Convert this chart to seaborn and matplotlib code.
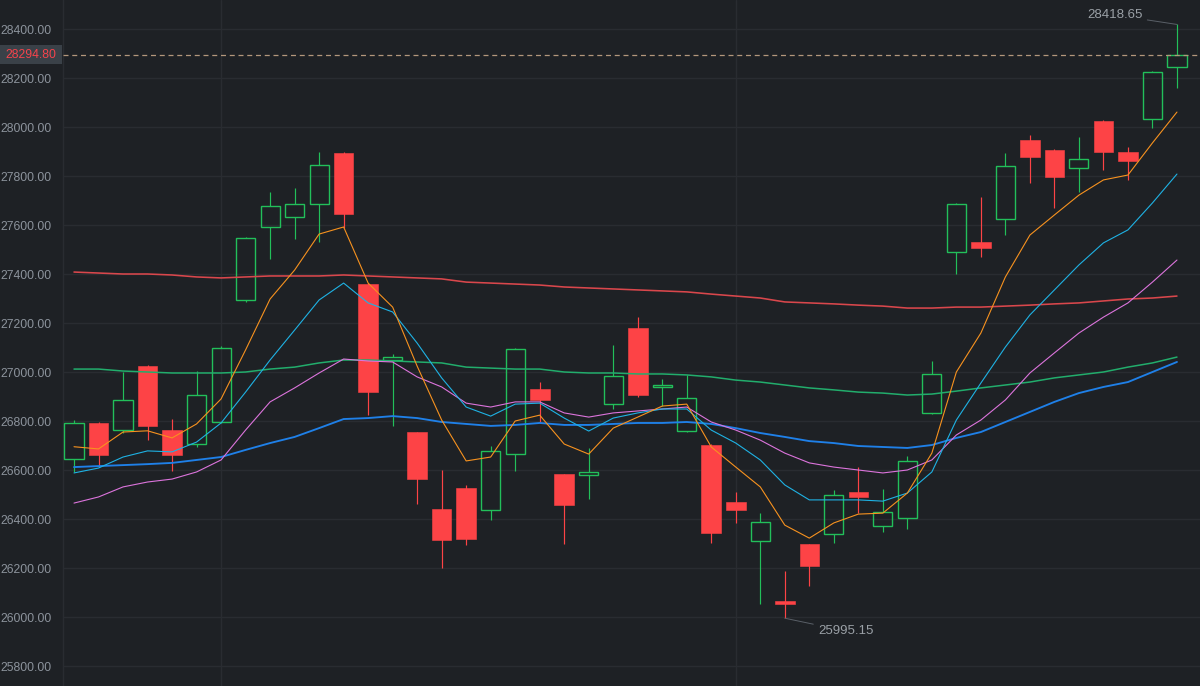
import matplotlib
matplotlib.use('Agg')

import numpy as np
import pandas as pd
import matplotlib.pyplot as plt
import matplotlib.transforms as mtransforms
from matplotlib.patches import Rectangle
import seaborn as sns

# ==========================================
# DU LIEU NEN (OHLC) DOC TU HINH
# ==========================================
opens = [26645, 26792, 26763, 27024, 26763, 26706, 26796, 27294, 27592, 27633,
         27686, 27894, 27359, 27049, 26755, 26441, 26526, 26437, 26665, 26930,
         26583, 26579, 26869, 27180, 26939, 26759, 26702, 26469, 26310, 26065,
         26298, 26339, 26510, 26371, 26404, 26833, 27490, 27531, 27624, 27947,
         27906, 27833, 28024, 27898, 28033, 28245]
highs = [26804, 26795, 27000, 27028, 26808, 27004, 27106, 27550, 27735, 27751,
         27898, 27898, 27362, 27073, 26757, 26600, 26539, 26698, 27098, 26959,
         26585, 26690, 27110, 27224, 26971, 26988, 26705, 26510, 26424, 26188,
         26300, 26518, 26612, 26522, 26657, 27045, 27690, 27714, 27894, 27967,
         27910, 27959, 28028, 27918, 28228, 28418.65]
lows = [26590, 26612, 26751, 26722, 26596, 26694, 26790, 27286, 27461, 27543,
        27531, 27588, 26824, 26779, 26461, 26200, 26294, 26396, 26596, 26796,
        26298, 26481, 26849, 26900, 26861, 26755, 26302, 26384, 26053, 25995.15,
        26127, 26302, 26424, 26347, 26359, 26830, 27400, 27469, 27559, 27771,
        27669, 27735, 27824, 27784, 27996, 28159]
closes = [26792, 26662, 26886, 26779, 26661, 26906, 27098, 27547, 27677, 27686,
          27845, 27645, 26918, 27061, 26563, 26314, 26318, 26677, 27094, 26886,
          26457, 26592, 26984, 26906, 26947, 26894, 26343, 26437, 26388, 26053,
          26208, 26498, 26490, 26428, 26637, 26992, 27686, 27506, 27841, 27878,
          27796, 27869, 27898, 27861, 28224, 28294.80]

# Cac duong trung binh dong (doc tu hinh)
ma5 = [26695, 26686, 26755, 26760, 26731, 26788, 26890, 27090, 27298, 27416,
       27563, 27592, 27363, 27265, 27024, 26804, 26637, 26653, 26800, 26824,
       26706, 26665, 26771, 26816, 26861, 26869, 26694, 26612, 26531, 26375,
       26322, 26384, 26420, 26424, 26506, 26669, 27000, 27159, 27388, 27559,
       27641, 27722, 27784, 27804, 27935, 28061]
ma10 = [26588, 26608, 26653, 26678, 26674, 26714, 26792, 26918, 27049, 27171,
        27294, 27363, 27282, 27245, 27118, 26976, 26857, 26820, 26869, 26873,
        26812, 26759, 26812, 26833, 26849, 26849, 26763, 26710, 26641, 26539,
        26478, 26478, 26478, 26473, 26506, 26592, 26804, 26955, 27102, 27233,
        27335, 27437, 27527, 27580, 27690, 27808]
ma20 = [26465, 26490, 26531, 26551, 26563, 26592, 26641, 26763, 26878, 26935,
        26996, 27053, 27045, 27041, 26980, 26939, 26873, 26857, 26878, 26878,
        26833, 26816, 26833, 26841, 26849, 26857, 26796, 26763, 26722, 26669,
        26629, 26612, 26600, 26588, 26600, 26641, 26743, 26804, 26886, 26996,
        27078, 27159, 27224, 27282, 27367, 27457]
ma30 = [26612, 26616, 26620, 26624, 26629, 26641, 26653, 26682, 26710, 26735,
        26771, 26808, 26812, 26820, 26812, 26796, 26788, 26780, 26784, 26792,
        26784, 26784, 26788, 26792, 26792, 26796, 26788, 26771, 26751, 26735,
        26718, 26710, 26698, 26694, 26690, 26702, 26731, 26755, 26796, 26837,
        26878, 26914, 26939, 26959, 27000, 27041]
ma60 = [27012, 27012, 27004, 27000, 26996, 26996, 26996, 27000, 27012, 27020,
        27037, 27049, 27049, 27045, 27041, 27037, 27020, 27016, 27012, 27012,
        27000, 26996, 26996, 26992, 26992, 26988, 26980, 26967, 26959, 26947,
        26935, 26927, 26918, 26914, 26906, 26910, 26922, 26935, 26947, 26959,
        26976, 26988, 27000, 27020, 27037, 27061]
ma120 = [27408, 27404, 27400, 27400, 27396, 27388, 27384, 27388, 27392, 27392,
         27392, 27396, 27392, 27388, 27384, 27380, 27367, 27363, 27359, 27355,
         27347, 27343, 27339, 27335, 27331, 27327, 27318, 27310, 27302, 27286,
         27282, 27278, 27273, 27269, 27261, 27261, 27265, 27265, 27269, 27273,
         27278, 27282, 27290, 27298, 27302, 27310]

last_price = 28294.80
y_ticks = list(range(25800, 28401, 200))
month_marks = [6, 27]

# ==========================================
# MAU SAC & GIAO DIEN
# ==========================================
bg = '#1e2125'
grid_c = '#292c31'
up_c = '#22bf5a'
down_c = '#fd4346'
text_c = '#8c939c'

sns.set_theme(style='dark', rc={'axes.facecolor': bg, 'figure.facecolor': bg})
plt.rcParams['font.family'] = ['Liberation Sans', 'DejaVu Sans']

fig = plt.figure(figsize=(12, 6.86), dpi=100, facecolor=bg)
ax = fig.add_axes([63 / 1200, 0, 1 - 63 / 1200, 1])
ax.set_facecolor(bg)

o = np.array(opens)
h = np.array(highs)
l = np.array(lows)
c = np.array(closes)
x = np.arange(len(c))
up = c >= o

# Bac (wick): nen tang chia hai doan de khong xuyen qua than rong
for i in range(len(c)):
    if up[i]:
        ax.vlines(i, c[i], h[i], color=up_c, lw=0.85, zorder=2)
        ax.vlines(i, l[i], o[i], color=up_c, lw=0.85, zorder=2)
    else:
        ax.vlines(i, l[i], h[i], color=down_c, lw=0.85, zorder=2)

ax.bar(x[~up], (o - c)[~up], bottom=c[~up], width=0.8,
       color=down_c, edgecolor=down_c, linewidth=0.4, zorder=3)
ax.bar(x[up], np.maximum((c - o)[up], 4), bottom=o[up], width=0.78,
       facecolor='none', edgecolor=up_c, linewidth=1.0, zorder=3)

# Duong MA ve bang seaborn
ma_df = pd.DataFrame({'idx': x, 'MA5': ma5, 'MA10': ma10, 'MA20': ma20,
                      'MA30': ma30, 'MA60': ma60, 'MA120': ma120})
ma_styles = [('MA120', '#d9474c', 1.15), ('MA60', '#22ad6c', 1.1),
             ('MA30', '#1f80e8', 1.35), ('MA20', '#dc74dc', 0.8),
             ('MA10', '#1eb2e4', 0.8), ('MA5', '#f7921f', 0.8)]
for name, col, lw in ma_styles:
    sns.lineplot(data=ma_df, x='idx', y=name, ax=ax, color=col, linewidth=lw,
                 zorder=4, legend=False)

# Gia hien tai
ax.axhline(last_price, color='#b3977c', lw=0.9, ls=(0, (4, 3)), zorder=5)

# Truc va luoi
ax.set_xlim(-0.449, 45.94)
ax.set_ylim(25718.4, 28518.4)
ax.set_yticks(y_ticks)
ax.set_yticklabels([f'{v:.2f}' for v in y_ticks])
ax.set_xticks([])
ax.set_xlabel('')
ax.set_ylabel('')
ax.tick_params(axis='y', length=0, pad=8, labelsize=8.7, labelcolor=text_c)
ax.grid(axis='y', color=grid_c, lw=1.0)
for m in month_marks:
    ax.axvline(m, color=grid_c, lw=1.0, zorder=0)
for s in ['top', 'right', 'bottom']:
    ax.spines[s].set_visible(False)
ax.spines['left'].set_color(grid_c)
ax.spines['left'].set_linewidth(1.0)

# Nhan gia hien tai ben trai
tr = mtransforms.blended_transform_factory(fig.transFigure, ax.transData)
ax.add_patch(Rectangle((0, last_price - 38), 62 / 1200, 77, transform=tr,
                       facecolor='#3a4148', edgecolor='none', clip_on=False, zorder=6))
ax.text(5 / 1200, last_price, f'{last_price:.2f}', transform=tr, color='#f5444c',
        fontsize=8.7, va='center', ha='left', zorder=7, clip_on=False)

# Chu thich dinh / day
imax = int(np.argmax(h))
imin = int(np.argmin(l))
ax.annotate(f'{h[imax]:.2f}', xy=(imax, h[imax]), xytext=(43.6, 28457),
            ha='right', va='center', color='#9aa0a6', fontsize=9.5,
            arrowprops=dict(arrowstyle='-', color='#5a6068', lw=0.7,
                            shrinkA=1, shrinkB=0))
ax.annotate(f'{l[imin]:.2f}', xy=(imin, l[imin]), xytext=(30.35, 25943),
            ha='left', va='center', color='#9aa0a6', fontsize=9.5,
            arrowprops=dict(arrowstyle='-', color='#5a6068', lw=0.7,
                            shrinkA=1, shrinkB=0))

fig.savefig('out.png', dpi=100, facecolor=bg)
